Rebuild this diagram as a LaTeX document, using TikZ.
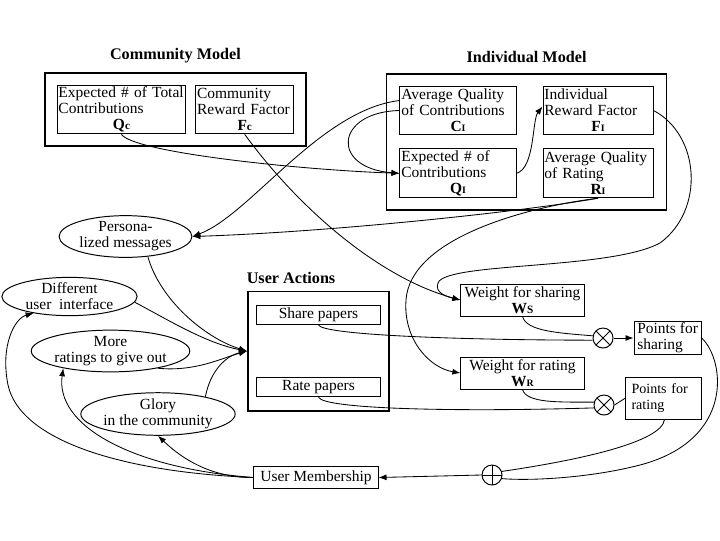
\documentclass[tikz,border=0pt]{standalone}
\usepackage{fontspec}
\setmainfont{Liberation Serif}
\usepackage{tikz}
\usetikzlibrary{arrows.meta,positioning,fit,calc,shapes.geometric}

\begin{document}
\begin{tikzpicture}[
  x=0.025cm, y=-0.025cm,
  node distance=3mm and 5mm,
  txt/.style={font=\fontsize{11}{11.4}\selectfont},
  title/.style={font=\fontsize{11.5}{12}\selectfont\bfseries},
  varbox/.style={draw,line width=0.7pt,txt,align=left,inner sep=1pt,minimum height=1.22cm},
  actbox/.style={draw,line width=0.7pt,txt,align=center,inner sep=1pt,minimum width=3.08cm,minimum height=0.48cm},
  group/.style={draw,line width=1.3pt},
  bubble/.style={draw,ellipse,line width=0.7pt,txt,align=center,inner sep=0pt},
  opnode/.style={draw,circle,line width=0.7pt,minimum size=0.5cm,inner sep=0pt},
  mulop/.style={opnode,path picture={\draw (path picture bounding box.north west) -- (path picture bounding box.south east)
      (path picture bounding box.north east) -- (path picture bounding box.south west);}},
  addop/.style={opnode,path picture={\draw (path picture bounding box.north) -- (path picture bounding box.south)
      (path picture bounding box.west) -- (path picture bounding box.east);}},
  arr/.style={-{Latex[length=2mm,width=1.5mm]},line width=0.6pt},
  wire/.style={line width=0.6pt}
]
\useasboundingbox (0,0) rectangle (720,540);

% community model
\node[varbox,minimum width=3.22cm,text width=3.15cm] (Qc) at (121.5,109.5)
  {Expected \# of Total\\Contributions\\\hfill\textbf{Q\footnotesize c}\hfill\null};
\node[varbox,minimum width=2.45cm,text width=2.38cm,right=2.2mm of Qc] (Fc)
  {Community\\Reward Factor\\\hfill\textbf{F\footnotesize c}\hfill\null};
\node[group,fit=(Qc)(Fc),inner sep=8.5pt] (comm) {};
\node[title,above=1mm of comm] (commtitle) {Community Model};

% individual model
\node[varbox,minimum width=2.9cm,text width=2.83cm] (CI) at (458,110.5)
  {Average Quality\\of Contributions\\\hfill\textbf{C\scriptsize I}\hfill\null};
\node[varbox,minimum width=2.75cm,text width=2.68cm,right=6.5mm of CI] (FI)
  {Individual\\Reward Factor\\\hfill\textbf{F\scriptsize I}\hfill\null};
\node[varbox,minimum width=2.9cm,text width=2.83cm,below=3.25mm of CI] (QI)
  {Expected \# of\\Contributions\\\hfill\textbf{Q\scriptsize I}\hfill\null};
\node[varbox,minimum width=2.75cm,text width=2.68cm,below=3.25mm of FI] (RI)
  {Average Quality\\of Rating\\\hfill\textbf{R\scriptsize I}\hfill\null};
\node[group,fit=(CI)(FI)(QI)(RI),inner xsep=9.2pt,inner ysep=8.5pt] (indiv) {};
\node[title,above=1.2mm of indiv] (indivtitle) {Individual Model};

% user actions
\node[actbox] (share) at (318.5,315) {Share papers};
\node[actbox,below=13mm of share] (rate) {Rate papers};
\node[group,fit=(share)(rate),inner xsep=6pt,inner ysep=9.5pt] (ua) {};
\node[title,above right=0.5mm and -1.3mm of ua.north west] (uatitle) {User Actions};

% motivators
\node[bubble,minimum width=3.32cm,minimum height=0.83cm] (pers) at (125.5,236.5) {Persona-\\lized messages};
\node[bubble,minimum width=3.38cm,minimum height=0.83cm] (diff) at (69.5,296.5) {Different\\user\ \ interface};
\node[bubble,minimum width=3.12cm,minimum height=0.95cm] (more) at (110.5,351) {More\\ratings to give out};
\node[bubble,minimum width=2.92cm,minimum height=0.95cm] (glory) at (158,414) {Glory\\in the community};

% weights and points
\node[varbox,align=center,minimum width=3.08cm,minimum height=0.8cm] (WS) at (522.5,300)
  {Weight for sharing\\\textbf{W\footnotesize S}};
\node[varbox,align=center,minimum width=3.08cm,minimum height=0.8cm,below=10mm of WS] (WR)
  {Weight for rating\\\textbf{W\scriptsize R}};
\node[mulop] (mul1) at (603,338) {};
\node[mulop] (mul2) at (604,405) {};
\node[varbox,minimum width=1.68cm,minimum height=0.8cm,right=5mm of mul1] (ptsS) {Points for\\sharing};
\node[draw,line width=0.6pt,align=left,inner sep=3pt,font=\fontsize{10}{12}\selectfont,
  minimum width=1.88cm,minimum height=1.05cm,text width=1.6cm] (ptsR) at (663.5,398) {Points for\\rating};
\node[addop] (plus) at (492,475) {};
\node[actbox,minimum width=3.1cm,minimum height=0.53cm] (memb) at (316,477.5) {User Membership};

% model links
\draw[arr] (Qc.south) .. controls +(12,18) and (300,170) .. (QI.west);
\draw[arr] (CI.west) .. controls (335,112) and (330,168) .. (QI.west);
\draw[arr] ($(CI.west)+(0,-10)$) .. controls (320,110) and (250,215) .. (pers.east);
\draw[arr] (QI.east) .. controls (535,168) and (532,120) .. ($(FI.west)+(0,-4)$);
\draw[arr] (RI.south) .. controls (520,212) and (330,232) .. (pers.east);
\draw[arr] (RI.south) .. controls (520,208) and (410,240) .. (406,300) .. controls (403,340) and (430,368) .. (WR.west);
\draw[arr] (Fc.south) .. controls (300,210) and (380,278) .. (WS.west);
\draw[arr] (FI.east) .. controls (700,135) and (705,210) .. (660,243) .. controls (610,270) and (445,262) .. (438,283) .. controls (434,293) and (448,297) .. (WS.west);

% actions to points
\draw[wire] (share.south) .. controls +(6,10) and (460,340) .. (mul1.192);
\draw[wire] (WS.south) .. controls +(4,15) and (560,333) .. (mul1.168);
\draw[arr] (mul1.east) -- (ptsS.west);
\draw[wire] (rate.south) .. controls +(6,12) and (460,412) .. (mul2.196);
\draw[wire] (WR.south) .. controls +(4,14) and (560,402) .. (mul2.164);
\draw[wire] (mul2.east) -- (ptsR.west);
\draw[wire] (ptsS.east) .. controls (725,360) and (735,440) .. (640,465) .. controls (590,478) and (530,481) .. (plus.-20);
\draw[wire] ($(ptsR.south)+(1,0)$) .. controls (662,442) and (580,460) .. (plus.20);
\draw[arr] (plus.west) -- (memb.east);

% membership feedback
\draw[arr] (memb.west) .. controls (205,478) and (175,452) .. (glory.south);
\draw[arr] (memb.west) .. controls (130,468) and (55,425) .. (more.200);
\draw[arr] (memb.west) .. controls (120,472) and (20,440) .. (8,385) .. controls (0,345) and (15,318) .. (diff.205);

% motivators to actions
\draw[arr] (pers.-42) .. controls (160,300) and (205,338) .. (ua.west);
\draw[arr] (diff.-5) .. controls (165,318) and (205,343) .. (ua.west);
\draw[arr] (more.-20) .. controls (195,372) and (222,358) .. (ua.west);
\draw[arr] (glory.20) .. controls (210,372) and (225,356) .. (ua.west);
\end{tikzpicture}
\end{document}
